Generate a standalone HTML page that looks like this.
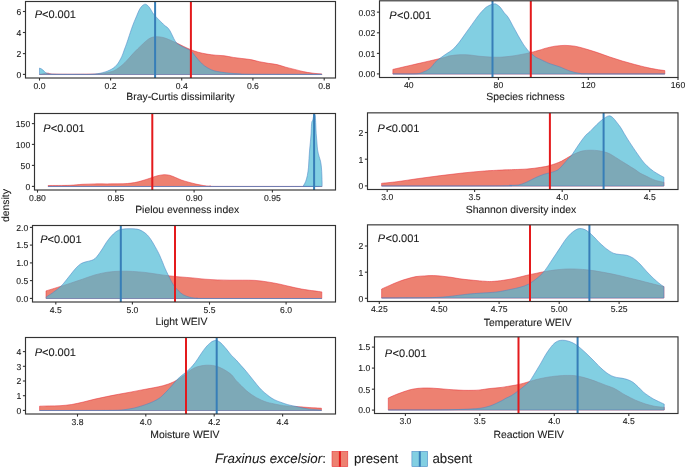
<!DOCTYPE html>
<html><head><meta charset="utf-8"><style>
html,body{margin:0;padding:0;background:#fff;}
body{width:685px;height:468px;overflow:hidden;}
svg{display:block;font-family:"Liberation Sans", sans-serif;will-change:transform;}
text{fill:#1a1a1a;stroke:#1a1a1a;stroke-width:0.1px;text-rendering:geometricPrecision;}
</style></head><body>
<svg width="685" height="468" viewBox="0 0 685 468">
<rect width="685" height="468" fill="#fff"/>
<clipPath id="c0"><rect x="25.50" y="1.50" width="310.00" height="76.50"/></clipPath>
<g clip-path="url(#c0)">
<path d="M39.50,74.52 L39.50,74.40 C40.82,74.20 45.23,73.27 47.40,73.20 C49.57,73.13 48.73,73.83 52.50,74.00 C56.27,74.17 63.75,74.18 70.00,74.20 C76.25,74.22 85.00,74.18 90.00,74.10 C95.00,74.02 96.67,74.05 100.00,73.70 C103.33,73.35 107.22,72.75 110.00,72.00 C112.78,71.25 114.20,70.78 116.70,69.20 C119.20,67.62 122.23,65.15 125.00,62.50 C127.77,59.85 130.52,56.22 133.30,53.30 C136.08,50.38 139.20,47.35 141.70,45.00 C144.20,42.65 146.37,40.53 148.30,39.20 C150.23,37.87 151.77,37.42 153.30,37.00 C154.83,36.58 155.83,36.62 157.50,36.70 C159.17,36.78 161.22,36.95 163.30,37.50 C165.38,38.05 167.77,39.08 170.00,40.00 C172.23,40.92 174.48,41.95 176.70,43.00 C178.92,44.05 180.95,45.18 183.30,46.30 C185.65,47.42 188.33,48.72 190.80,49.70 C193.27,50.68 195.42,51.47 198.10,52.20 C200.78,52.93 203.97,53.60 206.90,54.10 C209.83,54.60 212.78,54.92 215.70,55.20 C218.62,55.48 221.48,55.43 224.40,55.80 C227.32,56.17 230.28,56.95 233.20,57.40 C236.12,57.85 238.98,58.13 241.90,58.50 C244.82,58.87 247.78,59.07 250.70,59.60 C253.62,60.13 256.48,61.08 259.40,61.70 C262.32,62.32 265.27,62.82 268.20,63.30 C271.13,63.78 274.08,63.95 277.00,64.60 C279.92,65.25 282.78,66.40 285.70,67.20 C288.62,68.00 291.58,68.67 294.50,69.40 C297.42,70.13 300.28,70.98 303.20,71.60 C306.12,72.22 308.88,72.70 312.00,73.10 C315.12,73.50 320.25,73.85 321.90,74.00 L321.90,74.52 Z" fill="#E64B35" fill-opacity="0.70" stroke="#E8333A" stroke-width="0.55" stroke-linejoin="round"/>
<path d="M39.50,74.52 L39.50,68.10 C39.78,68.22 40.57,68.43 41.20,68.80 C41.83,69.17 42.62,69.70 43.30,70.30 C43.98,70.90 44.62,71.88 45.30,72.40 C45.98,72.92 46.55,73.13 47.40,73.40 C48.25,73.67 48.30,73.85 50.40,74.00 C52.50,74.15 55.07,74.25 60.00,74.30 C64.93,74.35 75.00,74.30 80.00,74.30 C85.00,74.30 86.67,74.47 90.00,74.30 C93.33,74.13 96.67,74.02 100.00,73.30 C103.33,72.58 107.22,71.38 110.00,70.00 C112.78,68.62 114.75,67.22 116.70,65.00 C118.65,62.78 120.45,59.20 121.70,56.70 C122.95,54.20 123.37,52.23 124.20,50.00 C125.03,47.77 125.87,45.67 126.70,43.30 C127.53,40.93 128.37,38.30 129.20,35.80 C130.03,33.30 130.87,30.65 131.70,28.30 C132.53,25.95 133.37,23.78 134.20,21.70 C135.03,19.62 135.87,17.75 136.70,15.80 C137.53,13.85 138.37,11.58 139.20,10.00 C140.03,8.42 140.95,7.18 141.70,6.30 C142.45,5.42 143.10,5.05 143.70,4.70 C144.30,4.35 144.67,4.10 145.30,4.20 C145.93,4.30 146.72,4.62 147.50,5.30 C148.28,5.98 149.17,7.10 150.00,8.30 C150.83,9.50 151.67,11.25 152.50,12.50 C153.33,13.75 154.03,14.68 155.00,15.80 C155.97,16.92 157.18,18.08 158.30,19.20 C159.42,20.32 160.58,21.40 161.70,22.50 C162.82,23.60 164.03,24.97 165.00,25.80 C165.97,26.63 166.67,26.67 167.50,27.50 C168.33,28.33 169.17,29.42 170.00,30.80 C170.83,32.18 171.67,34.13 172.50,35.80 C173.33,37.47 174.17,39.48 175.00,40.80 C175.83,42.12 176.38,42.78 177.50,43.70 C178.62,44.62 180.17,45.47 181.70,46.30 C183.23,47.13 185.18,47.95 186.70,48.70 C188.22,49.45 189.42,49.62 190.80,50.80 C192.18,51.98 193.47,53.98 195.00,55.80 C196.53,57.62 198.38,60.00 200.00,61.70 C201.62,63.40 202.82,64.65 204.70,66.00 C206.58,67.35 209.12,68.87 211.30,69.80 C213.48,70.73 214.88,71.05 217.80,71.60 C220.72,72.15 225.15,72.73 228.80,73.10 C232.45,73.47 236.05,73.62 239.70,73.80 C243.35,73.98 237.00,74.12 250.70,74.20 C264.40,74.28 310.03,74.28 321.90,74.30 L321.90,74.52 Z" fill="#4DBBD5" fill-opacity="0.70" stroke="#4F86C6" stroke-width="0.55" stroke-linejoin="round"/>
<line x1="190.90" y1="1.50" x2="190.90" y2="78.00" stroke="#E41A1C" stroke-width="2"/>
<line x1="155.10" y1="1.50" x2="155.10" y2="78.00" stroke="#377EB8" stroke-width="2"/>
</g>
<rect x="25.50" y="1.50" width="310.00" height="76.50" fill="none" stroke="#333333" stroke-width="1.15"/>
<line x1="22.90" y1="74.40" x2="25.50" y2="74.40" stroke="#333333" stroke-width="1.1"/>
<text x="21.20" y="77.78" text-anchor="end" font-size="8.65">0</text>
<line x1="22.90" y1="53.60" x2="25.50" y2="53.60" stroke="#333333" stroke-width="1.1"/>
<text x="21.20" y="56.98" text-anchor="end" font-size="8.65">2</text>
<line x1="22.90" y1="32.50" x2="25.50" y2="32.50" stroke="#333333" stroke-width="1.1"/>
<text x="21.20" y="35.88" text-anchor="end" font-size="8.65">4</text>
<line x1="22.90" y1="11.50" x2="25.50" y2="11.50" stroke="#333333" stroke-width="1.1"/>
<text x="21.20" y="14.88" text-anchor="end" font-size="8.65">6</text>
<line x1="39.50" y1="78.00" x2="39.50" y2="80.60" stroke="#333333" stroke-width="1.1"/>
<text x="39.50" y="88.90" text-anchor="middle" font-size="8.65">0.0</text>
<line x1="110.60" y1="78.00" x2="110.60" y2="80.60" stroke="#333333" stroke-width="1.1"/>
<text x="110.60" y="88.90" text-anchor="middle" font-size="8.65">0.2</text>
<line x1="181.70" y1="78.00" x2="181.70" y2="80.60" stroke="#333333" stroke-width="1.1"/>
<text x="181.70" y="88.90" text-anchor="middle" font-size="8.65">0.4</text>
<line x1="252.90" y1="78.00" x2="252.90" y2="80.60" stroke="#333333" stroke-width="1.1"/>
<text x="252.90" y="88.90" text-anchor="middle" font-size="8.65">0.6</text>
<line x1="324.20" y1="78.00" x2="324.20" y2="80.60" stroke="#333333" stroke-width="1.1"/>
<text x="324.20" y="88.90" text-anchor="middle" font-size="8.65">0.8</text>
<text x="126.27" y="99.90" font-size="10.40">Bray-Curtis dissimilarity</text>
<text x="34.67" y="17.70" font-size="11.00"><tspan font-style="italic">P</tspan><tspan dx="0.00">&lt;0.001</tspan></text>
<clipPath id="c1"><rect x="379.50" y="0.80" width="298.50" height="76.70"/></clipPath>
<g clip-path="url(#c1)">
<path d="M392.90,74.02 L392.90,69.40 C400.75,67.58 430.48,60.77 440.00,58.50 C449.52,56.23 446.67,56.43 450.00,55.80 C453.33,55.17 456.67,54.83 460.00,54.70 C463.33,54.57 466.67,54.73 470.00,55.00 C473.33,55.27 476.67,55.97 480.00,56.30 C483.33,56.63 486.67,56.85 490.00,57.00 C493.33,57.15 496.67,57.32 500.00,57.20 C503.33,57.08 506.67,56.72 510.00,56.30 C513.33,55.88 516.53,55.33 520.00,54.70 C523.47,54.07 527.47,53.28 530.80,52.50 C534.13,51.72 537.63,50.68 540.00,50.00 C542.37,49.32 542.52,49.03 545.00,48.40 C547.48,47.77 551.58,46.70 554.90,46.20 C558.22,45.70 561.57,45.40 564.90,45.40 C568.23,45.40 571.57,45.65 574.90,46.20 C578.23,46.75 581.15,47.63 584.90,48.70 C588.65,49.77 593.25,51.22 597.40,52.60 C601.55,53.98 605.65,55.60 609.80,57.00 C613.95,58.40 618.13,59.75 622.30,61.00 C626.47,62.25 630.63,63.40 634.80,64.50 C638.97,65.60 643.77,66.80 647.30,67.60 C650.83,68.40 653.08,68.80 656.00,69.30 C658.92,69.80 663.33,70.38 664.80,70.60 L664.80,74.02 Z" fill="#E64B35" fill-opacity="0.70" stroke="#E8333A" stroke-width="0.55" stroke-linejoin="round"/>
<path d="M392.90,74.02 L392.90,73.90 C396.57,73.90 409.98,74.15 414.90,73.90 C419.82,73.65 419.90,73.28 422.40,72.40 C424.90,71.52 427.80,70.25 429.90,68.60 C432.00,66.95 433.32,64.22 435.00,62.50 C436.68,60.78 438.10,59.75 440.00,58.30 C441.90,56.85 444.27,55.28 446.40,53.80 C448.53,52.32 450.67,51.32 452.80,49.40 C454.93,47.48 457.07,44.98 459.20,42.30 C461.33,39.62 463.47,36.28 465.60,33.30 C467.73,30.32 469.85,27.38 472.00,24.40 C474.15,21.42 476.35,18.08 478.50,15.40 C480.65,12.72 482.98,10.02 484.90,8.30 C486.82,6.58 488.48,5.83 490.00,5.10 C491.52,4.37 492.93,4.03 494.00,3.90 C495.07,3.77 495.35,3.73 496.40,4.30 C497.45,4.87 499.02,5.92 500.30,7.30 C501.58,8.68 502.77,10.90 504.10,12.60 C505.43,14.30 506.77,15.15 508.30,17.50 C509.83,19.85 511.63,23.65 513.30,26.70 C514.97,29.75 516.63,32.88 518.30,35.80 C519.97,38.72 521.63,41.70 523.30,44.20 C524.97,46.70 527.05,49.33 528.30,50.80 C529.55,52.27 529.68,52.02 530.80,53.00 C531.92,53.98 533.47,55.67 535.00,56.70 C536.53,57.73 537.52,58.03 540.00,59.20 C542.48,60.37 546.58,62.42 549.90,63.70 C553.22,64.98 556.57,65.67 559.90,66.90 C563.23,68.13 566.57,70.02 569.90,71.10 C573.23,72.18 576.57,72.93 579.90,73.40 C583.23,73.87 575.75,73.82 589.90,73.90 C604.05,73.98 652.32,73.90 664.80,73.90 L664.80,74.02 Z" fill="#4DBBD5" fill-opacity="0.70" stroke="#4F86C6" stroke-width="0.55" stroke-linejoin="round"/>
<line x1="530.80" y1="0.80" x2="530.80" y2="77.50" stroke="#E41A1C" stroke-width="2"/>
<line x1="492.50" y1="0.80" x2="492.50" y2="77.50" stroke="#377EB8" stroke-width="2"/>
</g>
<rect x="379.50" y="0.80" width="298.50" height="76.70" fill="none" stroke="#333333" stroke-width="1.15"/>
<line x1="376.90" y1="73.90" x2="379.50" y2="73.90" stroke="#333333" stroke-width="1.1"/>
<text x="375.20" y="77.28" text-anchor="end" font-size="8.65">0.00</text>
<line x1="376.90" y1="53.40" x2="379.50" y2="53.40" stroke="#333333" stroke-width="1.1"/>
<text x="375.20" y="56.78" text-anchor="end" font-size="8.65">0.01</text>
<line x1="376.90" y1="32.80" x2="379.50" y2="32.80" stroke="#333333" stroke-width="1.1"/>
<text x="375.20" y="36.18" text-anchor="end" font-size="8.65">0.02</text>
<line x1="376.90" y1="12.15" x2="379.50" y2="12.15" stroke="#333333" stroke-width="1.1"/>
<text x="375.20" y="15.53" text-anchor="end" font-size="8.65">0.03</text>
<line x1="408.80" y1="77.50" x2="408.80" y2="80.10" stroke="#333333" stroke-width="1.1"/>
<text x="408.80" y="88.40" text-anchor="middle" font-size="8.65">40</text>
<line x1="498.40" y1="77.50" x2="498.40" y2="80.10" stroke="#333333" stroke-width="1.1"/>
<text x="498.40" y="88.40" text-anchor="middle" font-size="8.65">80</text>
<line x1="588.30" y1="77.50" x2="588.30" y2="80.10" stroke="#333333" stroke-width="1.1"/>
<text x="588.30" y="88.40" text-anchor="middle" font-size="8.65">120</text>
<line x1="678.00" y1="77.50" x2="678.00" y2="80.10" stroke="#333333" stroke-width="1.1"/>
<text x="678.00" y="88.40" text-anchor="middle" font-size="8.65">160</text>
<text x="486.23" y="100.20" font-size="10.40">Species richness</text>
<text x="389.27" y="18.80" font-size="11.00"><tspan font-style="italic">P</tspan><tspan dx="0.50">&lt;0.001</tspan></text>
<clipPath id="c2"><rect x="34.50" y="113.50" width="301.00" height="76.50"/></clipPath>
<g clip-path="url(#c2)">
<path d="M48.18,186.52 L48.18,185.50 C51.80,185.47 64.20,185.50 69.90,185.30 C75.60,185.10 78.23,184.53 82.40,184.30 C86.57,184.07 90.73,183.97 94.90,183.90 C99.07,183.83 103.22,183.92 107.40,183.90 C111.58,183.88 116.68,183.87 120.00,183.80 C123.32,183.73 124.87,183.70 127.30,183.50 C129.73,183.30 132.17,183.05 134.60,182.60 C137.03,182.15 139.47,181.48 141.90,180.80 C144.33,180.12 146.77,179.30 149.20,178.50 C151.63,177.70 154.07,176.63 156.50,176.00 C158.93,175.37 161.62,174.82 163.80,174.70 C165.98,174.58 167.65,174.83 169.60,175.30 C171.55,175.77 173.55,176.72 175.50,177.50 C177.45,178.28 179.12,179.22 181.30,180.00 C183.48,180.78 186.17,181.52 188.60,182.20 C191.03,182.88 193.47,183.55 195.90,184.10 C198.33,184.65 200.77,185.15 203.20,185.50 C205.63,185.85 207.70,186.05 210.50,186.20 C213.30,186.35 201.45,186.36 220.00,186.40 C238.55,186.44 304.85,186.44 321.82,186.45 L321.82,186.52 Z" fill="#E64B35" fill-opacity="0.70" stroke="#E8333A" stroke-width="0.55" stroke-linejoin="round"/>
<path d="M48.18,186.52 L48.18,186.45 C90.15,186.45 257.53,186.47 300.00,186.45 C342.47,186.42 302.37,186.54 303.00,186.30 C303.63,186.06 303.37,185.78 303.80,185.00 C304.23,184.22 305.02,183.17 305.60,181.60 C306.18,180.03 306.82,178.02 307.30,175.60 C307.78,173.18 308.22,169.95 308.50,167.10 C308.78,164.25 308.82,161.35 309.00,158.50 C309.18,155.65 309.37,152.77 309.60,150.00 C309.83,147.23 310.15,144.67 310.40,141.90 C310.65,139.13 310.92,136.25 311.10,133.40 C311.28,130.55 311.35,126.80 311.50,124.80 C311.65,122.80 311.78,122.18 312.00,121.40 C312.22,120.62 312.55,120.92 312.80,120.10 C313.05,119.28 313.27,117.47 313.50,116.50 C313.73,115.53 313.95,114.65 314.20,114.30 C314.45,113.95 314.80,113.93 315.00,114.40 C315.20,114.87 315.27,115.37 315.40,117.10 C315.53,118.83 315.67,122.08 315.80,124.80 C315.93,127.52 316.02,130.55 316.20,133.40 C316.38,136.25 316.67,139.13 316.90,141.90 C317.13,144.67 317.22,147.52 317.60,150.00 C317.98,152.48 318.72,154.95 319.20,156.80 C319.68,158.65 320.13,159.38 320.50,161.10 C320.87,162.82 321.17,164.68 321.40,167.10 C321.63,169.52 321.78,173.12 321.90,175.60 C322.02,178.08 322.07,180.93 322.10,182.00 L322.10,186.52 Z" fill="#4DBBD5" fill-opacity="0.70" stroke="#4F86C6" stroke-width="0.55" stroke-linejoin="round"/>
<line x1="152.30" y1="113.50" x2="152.30" y2="190.00" stroke="#E41A1C" stroke-width="2"/>
<line x1="314.10" y1="113.50" x2="314.10" y2="190.00" stroke="#377EB8" stroke-width="2"/>
</g>
<rect x="34.50" y="113.50" width="301.00" height="76.50" fill="none" stroke="#333333" stroke-width="1.15"/>
<line x1="31.90" y1="186.40" x2="34.50" y2="186.40" stroke="#333333" stroke-width="1.1"/>
<text x="30.20" y="189.78" text-anchor="end" font-size="8.65">0</text>
<line x1="31.90" y1="165.40" x2="34.50" y2="165.40" stroke="#333333" stroke-width="1.1"/>
<text x="30.20" y="168.78" text-anchor="end" font-size="8.65">50</text>
<line x1="31.90" y1="144.40" x2="34.50" y2="144.40" stroke="#333333" stroke-width="1.1"/>
<text x="30.20" y="147.78" text-anchor="end" font-size="8.65">100</text>
<line x1="31.90" y1="123.60" x2="34.50" y2="123.60" stroke="#333333" stroke-width="1.1"/>
<text x="30.20" y="126.98" text-anchor="end" font-size="8.65">150</text>
<line x1="37.50" y1="190.00" x2="37.50" y2="192.60" stroke="#333333" stroke-width="1.1"/>
<text x="37.50" y="200.90" text-anchor="middle" font-size="8.65">0.80</text>
<line x1="115.80" y1="190.00" x2="115.80" y2="192.60" stroke="#333333" stroke-width="1.1"/>
<text x="115.80" y="200.90" text-anchor="middle" font-size="8.65">0.85</text>
<line x1="194.10" y1="190.00" x2="194.10" y2="192.60" stroke="#333333" stroke-width="1.1"/>
<text x="194.10" y="200.90" text-anchor="middle" font-size="8.65">0.90</text>
<line x1="272.40" y1="190.00" x2="272.40" y2="192.60" stroke="#333333" stroke-width="1.1"/>
<text x="272.40" y="200.90" text-anchor="middle" font-size="8.65">0.95</text>
<text x="135.17" y="213.40" font-size="10.40">Pielou evenness index</text>
<text x="43.37" y="131.60" font-size="11.00"><tspan font-style="italic">P</tspan><tspan dx="0.00">&lt;0.001</tspan></text>
<clipPath id="c3"><rect x="367.50" y="112.85" width="310.50" height="76.65"/></clipPath>
<g clip-path="url(#c3)">
<path d="M381.61,186.02 L381.61,183.30 C384.16,183.03 390.70,182.50 396.90,181.70 C403.10,180.90 411.50,179.52 418.80,178.50 C426.10,177.48 433.40,176.52 440.70,175.60 C448.00,174.68 455.30,173.77 462.60,173.00 C469.90,172.23 477.20,171.53 484.50,171.00 C491.80,170.47 502.15,170.02 506.40,169.80 C510.65,169.58 506.55,169.83 510.00,169.70 C513.45,169.57 521.97,169.40 527.10,169.00 C532.23,168.60 537.08,167.87 540.80,167.30 C544.52,166.73 545.98,166.60 549.40,165.60 C552.82,164.60 557.60,163.02 561.30,161.30 C565.00,159.58 568.17,157.00 571.60,155.30 C575.03,153.60 578.77,151.95 581.90,151.10 C585.03,150.25 587.62,150.27 590.40,150.20 C593.18,150.13 596.17,150.38 598.60,150.70 C601.03,151.02 603.08,151.55 605.00,152.10 C606.92,152.65 608.38,153.15 610.10,154.00 C611.82,154.85 613.58,156.13 615.30,157.20 C617.02,158.27 618.70,159.33 620.40,160.40 C622.10,161.47 623.80,162.53 625.50,163.60 C627.20,164.67 628.88,165.73 630.60,166.80 C632.32,167.87 634.23,168.95 635.80,170.00 C637.37,171.05 638.45,172.17 640.00,173.10 C641.55,174.03 643.38,174.75 645.10,175.60 C646.82,176.45 648.58,177.42 650.30,178.20 C652.02,178.98 653.70,179.73 655.40,180.30 C657.10,180.87 659.09,181.27 660.50,181.60 C661.91,181.93 663.33,182.18 663.89,182.30 L663.89,186.02 Z" fill="#E64B35" fill-opacity="0.70" stroke="#E8333A" stroke-width="0.55" stroke-linejoin="round"/>
<path d="M381.61,186.02 L381.61,186.00 C401.34,185.98 478.60,186.02 500.00,185.90 C521.40,185.78 506.90,185.45 510.00,185.30 C513.10,185.15 515.75,185.57 518.60,185.00 C521.45,184.43 524.25,183.13 527.10,181.90 C529.95,180.67 532.85,178.88 535.70,177.60 C538.55,176.32 541.63,175.05 544.20,174.20 C546.77,173.35 548.82,173.22 551.10,172.50 C553.38,171.78 555.92,171.18 557.90,169.90 C559.88,168.62 561.28,166.65 563.00,164.80 C564.72,162.95 566.77,160.38 568.20,158.80 C569.63,157.22 569.90,157.58 571.60,155.30 C573.30,153.02 576.12,148.37 578.40,145.10 C580.68,141.83 583.37,137.97 585.30,135.70 C587.23,133.43 588.08,133.37 590.00,131.50 C591.92,129.63 594.52,126.65 596.80,124.50 C599.08,122.35 601.70,120.03 603.70,118.60 C605.70,117.17 607.30,116.08 608.80,115.90 C610.30,115.72 611.42,116.48 612.70,117.50 C613.98,118.52 615.22,120.40 616.50,122.00 C617.78,123.60 619.12,125.18 620.40,127.10 C621.68,129.02 622.92,131.37 624.20,133.50 C625.48,135.63 626.82,137.87 628.10,139.90 C629.38,141.93 630.62,143.77 631.90,145.70 C633.18,147.63 634.52,149.63 635.80,151.50 C637.08,153.37 638.33,155.15 639.60,156.90 C640.87,158.65 642.20,160.55 643.40,162.00 C644.60,163.45 645.65,164.47 646.80,165.60 C647.95,166.73 649.15,167.83 650.30,168.80 C651.45,169.77 652.57,170.62 653.70,171.40 C654.83,172.18 655.97,172.82 657.10,173.50 C658.23,174.18 659.37,174.88 660.50,175.50 C661.63,176.12 663.33,176.92 663.89,177.20 L663.89,186.02 Z" fill="#4DBBD5" fill-opacity="0.70" stroke="#4F86C6" stroke-width="0.55" stroke-linejoin="round"/>
<line x1="549.90" y1="112.85" x2="549.90" y2="189.50" stroke="#E41A1C" stroke-width="2"/>
<line x1="603.60" y1="112.85" x2="603.60" y2="189.50" stroke="#377EB8" stroke-width="2"/>
</g>
<rect x="367.50" y="112.85" width="310.50" height="76.65" fill="none" stroke="#333333" stroke-width="1.15"/>
<line x1="364.90" y1="185.90" x2="367.50" y2="185.90" stroke="#333333" stroke-width="1.1"/>
<text x="363.20" y="189.28" text-anchor="end" font-size="8.65">0</text>
<line x1="364.90" y1="159.20" x2="367.50" y2="159.20" stroke="#333333" stroke-width="1.1"/>
<text x="363.20" y="162.58" text-anchor="end" font-size="8.65">1</text>
<line x1="364.90" y1="132.50" x2="367.50" y2="132.50" stroke="#333333" stroke-width="1.1"/>
<text x="363.20" y="135.88" text-anchor="end" font-size="8.65">2</text>
<line x1="387.20" y1="189.50" x2="387.20" y2="192.10" stroke="#333333" stroke-width="1.1"/>
<text x="387.20" y="200.40" text-anchor="middle" font-size="8.65">3.0</text>
<line x1="474.60" y1="189.50" x2="474.60" y2="192.10" stroke="#333333" stroke-width="1.1"/>
<text x="474.60" y="200.40" text-anchor="middle" font-size="8.65">3.5</text>
<line x1="562.20" y1="189.50" x2="562.20" y2="192.10" stroke="#333333" stroke-width="1.1"/>
<text x="562.20" y="200.40" text-anchor="middle" font-size="8.65">4.0</text>
<line x1="649.70" y1="189.50" x2="649.70" y2="192.10" stroke="#333333" stroke-width="1.1"/>
<text x="649.70" y="200.40" text-anchor="middle" font-size="8.65">4.5</text>
<text x="465.83" y="213.10" font-size="10.40">Shannon diversity index</text>
<text x="377.57" y="132.00" font-size="11.00"><tspan font-style="italic">P</tspan><tspan dx="0.50">&lt;0.001</tspan></text>
<clipPath id="c4"><rect x="32.50" y="225.50" width="303.00" height="76.50"/></clipPath>
<g clip-path="url(#c4)">
<path d="M46.00,298.52 L46.00,290.90 C47.90,290.32 53.42,288.65 57.40,287.40 C61.38,286.15 65.73,284.77 69.90,283.40 C74.07,282.03 78.23,280.62 82.40,279.20 C86.57,277.78 90.73,276.07 94.90,274.90 C99.07,273.73 103.23,272.82 107.40,272.20 C111.57,271.58 115.75,271.33 119.90,271.20 C124.05,271.07 128.15,271.20 132.30,271.40 C136.45,271.60 140.63,271.93 144.80,272.40 C148.97,272.87 153.13,273.62 157.30,274.20 C161.47,274.78 166.02,275.45 169.80,275.90 C173.58,276.35 176.22,276.57 180.00,276.90 C183.78,277.23 188.33,277.52 192.50,277.90 C196.67,278.28 200.85,278.87 205.00,279.20 C209.15,279.53 213.25,279.73 217.40,279.90 C221.55,280.07 225.73,280.15 229.90,280.20 C234.07,280.25 238.23,280.17 242.40,280.20 C246.57,280.23 250.73,280.12 254.90,280.40 C259.07,280.68 263.23,281.27 267.40,281.90 C271.57,282.53 275.75,283.33 279.90,284.20 C284.05,285.07 288.15,286.20 292.30,287.10 C296.45,288.00 299.88,288.80 304.80,289.60 C309.72,290.40 318.97,291.52 321.80,291.90 L321.80,298.52 Z" fill="#E64B35" fill-opacity="0.70" stroke="#E8333A" stroke-width="0.55" stroke-linejoin="round"/>
<path d="M46.27,298.52 L46.27,296.90 C47.31,296.23 50.15,294.58 52.50,292.90 C54.85,291.22 58.23,288.78 60.40,286.80 C62.57,284.82 63.80,283.03 65.50,281.00 C67.20,278.97 68.88,276.73 70.60,274.60 C72.32,272.47 74.08,270.02 75.80,268.20 C77.52,266.38 79.20,264.77 80.90,263.70 C82.60,262.63 84.28,262.33 86.00,261.80 C87.72,261.27 89.70,261.03 91.20,260.50 C92.70,259.97 93.73,259.67 95.00,258.60 C96.27,257.53 97.52,255.82 98.80,254.10 C100.08,252.38 101.67,249.90 102.70,248.30 C103.73,246.70 104.07,245.93 105.00,244.50 C105.93,243.07 106.92,241.45 108.30,239.70 C109.68,237.95 111.63,235.57 113.30,234.00 C114.97,232.43 116.63,231.13 118.30,230.30 C119.97,229.47 121.35,229.27 123.30,229.00 C125.25,228.73 127.72,228.68 130.00,228.70 C132.28,228.72 134.97,228.70 137.00,229.10 C139.03,229.50 140.48,230.13 142.20,231.10 C143.92,232.07 145.80,233.42 147.30,234.90 C148.80,236.38 149.92,238.08 151.20,240.00 C152.48,241.92 153.73,244.15 155.00,246.40 C156.27,248.65 157.52,250.82 158.80,253.50 C160.08,256.18 161.67,260.05 162.70,262.50 C163.73,264.95 164.07,266.08 165.00,268.20 C165.93,270.32 166.92,272.43 168.30,275.20 C169.68,277.97 171.63,282.22 173.30,284.80 C174.97,287.38 176.63,289.03 178.30,290.70 C179.97,292.37 181.35,293.70 183.30,294.80 C185.25,295.90 187.77,296.73 190.00,297.30 C192.23,297.87 193.37,298.01 196.70,298.20 C200.03,298.39 189.16,298.40 210.00,298.45 C230.84,298.50 303.11,298.49 321.73,298.50 L321.73,298.52 Z" fill="#4DBBD5" fill-opacity="0.70" stroke="#4F86C6" stroke-width="0.55" stroke-linejoin="round"/>
<line x1="175.00" y1="225.50" x2="175.00" y2="302.00" stroke="#E41A1C" stroke-width="2"/>
<line x1="120.80" y1="225.50" x2="120.80" y2="302.00" stroke="#377EB8" stroke-width="2"/>
</g>
<rect x="32.50" y="225.50" width="303.00" height="76.50" fill="none" stroke="#333333" stroke-width="1.15"/>
<line x1="29.90" y1="298.40" x2="32.50" y2="298.40" stroke="#333333" stroke-width="1.1"/>
<text x="28.20" y="301.78" text-anchor="end" font-size="8.65">0.0</text>
<line x1="29.90" y1="280.60" x2="32.50" y2="280.60" stroke="#333333" stroke-width="1.1"/>
<text x="28.20" y="283.98" text-anchor="end" font-size="8.65">0.5</text>
<line x1="29.90" y1="262.90" x2="32.50" y2="262.90" stroke="#333333" stroke-width="1.1"/>
<text x="28.20" y="266.28" text-anchor="end" font-size="8.65">1.0</text>
<line x1="29.90" y1="245.10" x2="32.50" y2="245.10" stroke="#333333" stroke-width="1.1"/>
<text x="28.20" y="248.48" text-anchor="end" font-size="8.65">1.5</text>
<line x1="29.90" y1="227.40" x2="32.50" y2="227.40" stroke="#333333" stroke-width="1.1"/>
<text x="28.20" y="230.78" text-anchor="end" font-size="8.65">2.0</text>
<line x1="55.80" y1="302.00" x2="55.80" y2="304.60" stroke="#333333" stroke-width="1.1"/>
<text x="55.80" y="312.90" text-anchor="middle" font-size="8.65">4.5</text>
<line x1="132.40" y1="302.00" x2="132.40" y2="304.60" stroke="#333333" stroke-width="1.1"/>
<text x="132.40" y="312.90" text-anchor="middle" font-size="8.65">5.0</text>
<line x1="209.50" y1="302.00" x2="209.50" y2="304.60" stroke="#333333" stroke-width="1.1"/>
<text x="209.50" y="312.90" text-anchor="middle" font-size="8.65">5.5</text>
<line x1="286.10" y1="302.00" x2="286.10" y2="304.60" stroke="#333333" stroke-width="1.1"/>
<text x="286.10" y="312.90" text-anchor="middle" font-size="8.65">6.0</text>
<text x="155.47" y="325.00" font-size="10.40">Light WEIV</text>
<text x="40.27" y="243.10" font-size="11.00"><tspan font-style="italic">P</tspan><tspan dx="0.00">&lt;0.001</tspan></text>
<clipPath id="c5"><rect x="367.50" y="224.85" width="310.50" height="76.65"/></clipPath>
<g clip-path="url(#c5)">
<path d="M381.61,298.02 L381.61,289.00 C382.96,288.40 386.90,286.62 389.70,285.40 C392.50,284.18 395.48,282.80 398.40,281.70 C401.32,280.60 404.27,279.65 407.20,278.80 C410.13,277.95 413.08,277.08 416.00,276.60 C418.92,276.12 421.78,276.07 424.70,275.90 C427.62,275.73 430.58,275.55 433.50,275.60 C436.42,275.65 439.28,275.92 442.20,276.20 C445.12,276.48 448.07,276.87 451.00,277.30 C453.93,277.73 456.88,278.38 459.80,278.80 C462.72,279.22 465.47,279.48 468.50,279.80 C471.53,280.12 475.42,280.47 478.00,280.70 C480.58,280.93 481.72,281.07 484.00,281.20 C486.28,281.33 488.48,281.65 491.70,281.50 C494.92,281.35 499.42,280.85 503.30,280.30 C507.18,279.75 511.10,279.03 515.00,278.20 C518.90,277.37 523.08,276.13 526.70,275.30 C530.32,274.47 533.65,273.83 536.70,273.20 C539.75,272.57 541.67,272.07 545.00,271.50 C548.33,270.93 552.53,270.23 556.70,269.80 C560.87,269.37 565.00,268.90 570.00,268.90 C575.00,268.90 581.15,269.23 586.70,269.80 C592.25,270.37 597.75,271.32 603.30,272.30 C608.85,273.28 614.43,274.45 620.00,275.70 C625.57,276.95 631.15,278.42 636.70,279.80 C642.25,281.18 648.77,282.87 653.30,284.00 C657.83,285.13 662.12,286.17 663.89,286.60 L663.89,298.02 Z" fill="#E64B35" fill-opacity="0.70" stroke="#E8333A" stroke-width="0.55" stroke-linejoin="round"/>
<path d="M381.61,298.02 L381.61,298.00 C388.31,297.97 412.90,297.88 421.80,297.80 C430.70,297.72 431.35,297.63 435.00,297.50 C438.65,297.37 440.55,297.27 443.70,297.00 C446.85,296.73 450.25,296.33 453.90,295.90 C457.55,295.47 461.58,294.83 465.60,294.40 C469.62,293.97 472.82,293.70 478.00,293.30 C483.18,292.90 491.37,292.63 496.70,292.00 C502.03,291.37 506.12,290.28 510.00,289.50 C513.88,288.72 516.95,288.17 520.00,287.30 C523.05,286.43 525.80,285.55 528.30,284.30 C530.80,283.05 533.05,281.23 535.00,279.80 C536.95,278.37 538.32,277.30 540.00,275.70 C541.68,274.10 543.38,272.40 545.10,270.20 C546.82,268.00 548.58,265.07 550.30,262.50 C552.02,259.93 553.70,257.37 555.40,254.80 C557.10,252.23 558.80,249.67 560.50,247.10 C562.20,244.53 563.88,241.65 565.60,239.40 C567.32,237.15 569.08,235.20 570.80,233.60 C572.52,232.00 574.42,230.65 575.90,229.80 C577.38,228.95 578.42,228.62 579.70,228.50 C580.98,228.38 582.32,228.67 583.60,229.10 C584.88,229.53 586.12,230.23 587.40,231.10 C588.68,231.97 589.80,232.92 591.30,234.30 C592.80,235.68 594.95,237.92 596.40,239.40 C597.85,240.88 598.28,241.60 600.00,243.20 C601.72,244.80 604.48,247.33 606.70,249.00 C608.92,250.67 611.08,252.28 613.30,253.20 C615.52,254.12 617.77,254.15 620.00,254.50 C622.23,254.85 624.48,254.68 626.70,255.30 C628.92,255.92 631.08,256.75 633.30,258.20 C635.52,259.65 637.77,261.78 640.00,264.00 C642.23,266.22 644.48,269.13 646.70,271.50 C648.92,273.87 651.08,276.12 653.30,278.20 C655.52,280.28 658.24,282.60 660.00,284.00 C661.76,285.40 663.24,286.17 663.89,286.60 L663.89,298.02 Z" fill="#4DBBD5" fill-opacity="0.70" stroke="#4F86C6" stroke-width="0.55" stroke-linejoin="round"/>
<line x1="530.00" y1="224.85" x2="530.00" y2="301.50" stroke="#E41A1C" stroke-width="2"/>
<line x1="589.40" y1="224.85" x2="589.40" y2="301.50" stroke="#377EB8" stroke-width="2"/>
</g>
<rect x="367.50" y="224.85" width="310.50" height="76.65" fill="none" stroke="#333333" stroke-width="1.15"/>
<line x1="364.90" y1="298.30" x2="367.50" y2="298.30" stroke="#333333" stroke-width="1.1"/>
<text x="363.20" y="301.68" text-anchor="end" font-size="8.65">0</text>
<line x1="364.90" y1="272.20" x2="367.50" y2="272.20" stroke="#333333" stroke-width="1.1"/>
<text x="363.20" y="275.58" text-anchor="end" font-size="8.65">1</text>
<line x1="364.90" y1="246.00" x2="367.50" y2="246.00" stroke="#333333" stroke-width="1.1"/>
<text x="363.20" y="249.38" text-anchor="end" font-size="8.65">2</text>
<line x1="379.30" y1="301.50" x2="379.30" y2="304.10" stroke="#333333" stroke-width="1.1"/>
<text x="379.30" y="312.40" text-anchor="middle" font-size="8.65">4.25</text>
<line x1="439.20" y1="301.50" x2="439.20" y2="304.10" stroke="#333333" stroke-width="1.1"/>
<text x="439.20" y="312.40" text-anchor="middle" font-size="8.65">4.50</text>
<line x1="499.10" y1="301.50" x2="499.10" y2="304.10" stroke="#333333" stroke-width="1.1"/>
<text x="499.10" y="312.40" text-anchor="middle" font-size="8.65">4.75</text>
<line x1="559.20" y1="301.50" x2="559.20" y2="304.10" stroke="#333333" stroke-width="1.1"/>
<text x="559.20" y="312.40" text-anchor="middle" font-size="8.65">5.00</text>
<line x1="619.10" y1="301.50" x2="619.10" y2="304.10" stroke="#333333" stroke-width="1.1"/>
<text x="619.10" y="312.40" text-anchor="middle" font-size="8.65">5.25</text>
<text x="483.84" y="325.60" font-size="10.40">Temperature WEIV</text>
<text x="377.67" y="242.30" font-size="11.00"><tspan font-style="italic">P</tspan><tspan dx="0.50">&lt;0.001</tspan></text>
<clipPath id="c6"><rect x="25.50" y="337.50" width="310.00" height="76.50"/></clipPath>
<g clip-path="url(#c6)">
<path d="M39.59,410.52 L39.59,406.20 C41.26,406.15 46.20,405.98 49.60,405.90 C53.00,405.82 56.32,405.93 60.00,405.70 C63.68,405.47 67.80,405.12 71.70,404.50 C75.60,403.88 79.52,402.90 83.40,402.00 C87.28,401.10 91.12,400.00 95.00,399.10 C98.88,398.20 102.80,397.40 106.70,396.60 C110.60,395.80 114.50,395.03 118.40,394.30 C122.30,393.57 126.20,392.93 130.10,392.20 C134.00,391.47 137.92,390.63 141.80,389.90 C145.68,389.17 149.85,388.50 153.40,387.80 C156.95,387.10 160.28,386.45 163.10,385.70 C165.92,384.95 168.12,384.17 170.30,383.30 C172.48,382.43 174.42,381.47 176.20,380.50 C177.98,379.53 179.50,378.50 181.00,377.50 C182.50,376.50 183.70,375.67 185.20,374.50 C186.70,373.33 188.30,371.68 190.00,370.50 C191.70,369.32 193.22,368.23 195.40,367.40 C197.58,366.57 200.75,365.87 203.10,365.50 C205.45,365.13 207.37,365.10 209.50,365.20 C211.63,365.30 213.55,365.42 215.90,366.10 C218.25,366.78 221.03,367.90 223.60,369.30 C226.17,370.70 229.23,372.65 231.30,374.50 C233.37,376.35 234.37,378.57 236.00,380.40 C237.63,382.23 239.38,383.80 241.10,385.50 C242.82,387.20 244.58,389.10 246.30,390.60 C248.02,392.10 249.70,393.32 251.40,394.50 C253.10,395.68 254.80,396.75 256.50,397.70 C258.20,398.65 259.88,399.45 261.60,400.20 C263.32,400.95 265.08,401.67 266.80,402.20 C268.52,402.73 270.20,403.02 271.90,403.40 C273.60,403.78 275.28,404.17 277.00,404.50 C278.72,404.83 280.48,405.15 282.20,405.40 C283.92,405.65 285.00,405.80 287.30,406.00 C289.60,406.20 292.88,406.38 296.00,406.60 C299.12,406.82 303.15,407.10 306.00,407.30 C308.85,407.50 310.53,407.65 313.10,407.80 C315.67,407.95 320.03,408.13 321.41,408.20 L321.41,410.52 Z" fill="#E64B35" fill-opacity="0.70" stroke="#E8333A" stroke-width="0.55" stroke-linejoin="round"/>
<path d="M39.59,410.52 L39.59,410.50 C49.66,410.48 87.93,410.43 100.00,410.40 C112.07,410.37 108.45,410.37 112.00,410.30 C115.55,410.23 117.80,410.33 121.30,410.00 C124.80,409.67 129.10,409.15 133.00,408.30 C136.90,407.45 141.30,406.03 144.70,404.90 C148.10,403.77 150.93,402.63 153.40,401.50 C155.87,400.37 157.88,399.20 159.50,398.10 C161.12,397.00 161.70,396.23 163.10,394.90 C164.50,393.57 166.30,391.80 167.90,390.10 C169.50,388.40 171.12,386.50 172.70,384.70 C174.28,382.90 175.82,380.90 177.40,379.30 C178.98,377.70 180.90,376.18 182.20,375.10 C183.50,374.02 183.90,373.88 185.20,372.80 C186.50,371.72 188.30,370.35 190.00,368.60 C191.70,366.85 193.65,364.63 195.40,362.30 C197.15,359.97 198.80,357.07 200.50,354.60 C202.20,352.13 203.88,349.53 205.60,347.50 C207.32,345.47 209.30,343.55 210.80,342.40 C212.30,341.25 213.53,340.90 214.60,340.60 C215.67,340.30 216.13,340.18 217.20,340.60 C218.27,341.02 219.50,341.73 221.00,343.10 C222.50,344.47 224.48,346.78 226.20,348.80 C227.92,350.82 229.67,353.37 231.30,355.20 C232.93,357.03 234.37,358.07 236.00,359.80 C237.63,361.53 239.38,363.67 241.10,365.60 C242.82,367.53 244.58,369.37 246.30,371.40 C248.02,373.43 249.70,375.67 251.40,377.80 C253.10,379.93 254.80,382.17 256.50,384.20 C258.20,386.23 259.88,388.28 261.60,390.00 C263.32,391.72 265.08,393.12 266.80,394.50 C268.52,395.88 270.20,397.23 271.90,398.30 C273.60,399.37 275.28,400.15 277.00,400.90 C278.72,401.65 280.48,402.20 282.20,402.80 C283.92,403.40 285.60,404.02 287.30,404.50 C289.00,404.98 290.95,405.38 292.40,405.70 C293.85,406.02 294.58,406.08 296.00,406.40 C297.42,406.72 299.23,407.23 300.90,407.60 C302.57,407.97 304.30,408.32 306.00,408.60 C307.70,408.88 309.23,409.10 311.10,409.30 C312.97,409.50 315.48,409.67 317.20,409.80 C318.92,409.93 320.71,410.05 321.41,410.10 L321.41,410.52 Z" fill="#4DBBD5" fill-opacity="0.70" stroke="#4F86C6" stroke-width="0.55" stroke-linejoin="round"/>
<line x1="186.00" y1="337.50" x2="186.00" y2="414.00" stroke="#E41A1C" stroke-width="2"/>
<line x1="216.70" y1="337.50" x2="216.70" y2="414.00" stroke="#377EB8" stroke-width="2"/>
</g>
<rect x="25.50" y="337.50" width="310.00" height="76.50" fill="none" stroke="#333333" stroke-width="1.15"/>
<line x1="22.90" y1="410.40" x2="25.50" y2="410.40" stroke="#333333" stroke-width="1.1"/>
<text x="21.20" y="413.78" text-anchor="end" font-size="8.65">0</text>
<line x1="22.90" y1="395.70" x2="25.50" y2="395.70" stroke="#333333" stroke-width="1.1"/>
<text x="21.20" y="399.08" text-anchor="end" font-size="8.65">1</text>
<line x1="22.90" y1="381.00" x2="25.50" y2="381.00" stroke="#333333" stroke-width="1.1"/>
<text x="21.20" y="384.38" text-anchor="end" font-size="8.65">2</text>
<line x1="22.90" y1="366.30" x2="25.50" y2="366.30" stroke="#333333" stroke-width="1.1"/>
<text x="21.20" y="369.68" text-anchor="end" font-size="8.65">3</text>
<line x1="22.90" y1="351.60" x2="25.50" y2="351.60" stroke="#333333" stroke-width="1.1"/>
<text x="21.20" y="354.98" text-anchor="end" font-size="8.65">4</text>
<line x1="77.50" y1="414.00" x2="77.50" y2="416.60" stroke="#333333" stroke-width="1.1"/>
<text x="77.50" y="424.90" text-anchor="middle" font-size="8.65">3.8</text>
<line x1="145.80" y1="414.00" x2="145.80" y2="416.60" stroke="#333333" stroke-width="1.1"/>
<text x="145.80" y="424.90" text-anchor="middle" font-size="8.65">4.0</text>
<line x1="214.20" y1="414.00" x2="214.20" y2="416.60" stroke="#333333" stroke-width="1.1"/>
<text x="214.20" y="424.90" text-anchor="middle" font-size="8.65">4.2</text>
<line x1="282.60" y1="414.00" x2="282.60" y2="416.60" stroke="#333333" stroke-width="1.1"/>
<text x="282.60" y="424.90" text-anchor="middle" font-size="8.65">4.4</text>
<text x="150.27" y="437.50" font-size="10.40">Moisture WEIV</text>
<text x="34.67" y="356.20" font-size="11.00"><tspan font-style="italic">P</tspan><tspan dx="0.00">&lt;0.001</tspan></text>
<clipPath id="c7"><rect x="374.50" y="336.85" width="303.50" height="76.65"/></clipPath>
<g clip-path="url(#c7)">
<path d="M388.30,410.02 L388.30,398.00 C389.70,397.38 393.92,395.42 396.70,394.30 C399.48,393.18 402.23,392.18 405.00,391.30 C407.77,390.42 410.25,389.55 413.30,389.00 C416.35,388.45 419.97,388.13 423.30,388.00 C426.63,387.87 429.97,388.03 433.30,388.20 C436.63,388.37 439.97,388.73 443.30,389.00 C446.63,389.27 449.97,389.58 453.30,389.80 C456.63,390.02 459.97,390.22 463.30,390.30 C466.63,390.38 470.52,390.37 473.30,390.30 C476.08,390.23 477.22,390.20 480.00,389.90 C482.78,389.60 486.67,388.88 490.00,388.50 C493.33,388.12 497.05,387.95 500.00,387.60 C502.95,387.25 505.13,386.82 507.70,386.40 C510.27,385.98 512.83,385.60 515.40,385.10 C517.97,384.60 520.75,384.00 523.10,383.40 C525.45,382.80 526.93,382.23 529.50,381.50 C532.07,380.77 535.30,379.75 538.50,379.00 C541.70,378.25 545.12,377.55 548.70,377.00 C552.28,376.45 556.83,375.97 560.00,375.70 C563.17,375.43 565.13,375.40 567.70,375.40 C570.27,375.40 572.83,375.38 575.40,375.70 C577.97,376.02 580.53,376.65 583.10,377.30 C585.67,377.95 588.23,378.75 590.80,379.60 C593.37,380.45 595.93,381.43 598.50,382.40 C601.07,383.37 603.65,384.43 606.20,385.40 C608.75,386.37 611.48,387.12 613.80,388.20 C616.12,389.28 618.18,390.75 620.10,391.90 C622.02,393.05 623.58,394.13 625.30,395.10 C627.02,396.07 628.70,396.85 630.40,397.70 C632.10,398.55 633.80,399.45 635.50,400.20 C637.20,400.95 638.88,401.55 640.60,402.20 C642.32,402.85 644.08,403.57 645.80,404.10 C647.52,404.63 649.20,405.00 650.90,405.40 C652.60,405.80 653.78,406.18 656.00,406.50 C658.22,406.82 662.83,407.17 664.20,407.30 L664.20,410.02 Z" fill="#E64B35" fill-opacity="0.70" stroke="#E8333A" stroke-width="0.55" stroke-linejoin="round"/>
<path d="M388.30,410.02 L388.30,410.00 C396.92,409.98 428.88,409.97 440.00,409.90 C451.12,409.83 450.83,409.70 455.00,409.60 C459.17,409.50 462.17,409.42 465.00,409.30 C467.83,409.18 469.50,409.07 472.00,408.90 C474.50,408.73 477.00,408.78 480.00,408.30 C483.00,407.82 486.67,407.12 490.00,406.00 C493.33,404.88 497.33,402.90 500.00,401.60 C502.67,400.30 504.08,399.20 506.00,398.20 C507.92,397.20 509.52,396.78 511.50,395.60 C513.48,394.42 515.75,392.70 517.90,391.10 C520.05,389.50 522.47,387.60 524.40,386.00 C526.33,384.40 528.02,383.22 529.50,381.50 C530.98,379.78 532.02,377.73 533.30,375.70 C534.58,373.67 535.92,371.43 537.20,369.30 C538.48,367.17 539.72,365.13 541.00,362.90 C542.28,360.67 543.62,358.03 544.90,355.90 C546.18,353.77 547.42,351.92 548.70,350.10 C549.98,348.28 551.32,346.38 552.60,345.00 C553.88,343.62 555.17,342.57 556.40,341.80 C557.63,341.03 558.55,340.63 560.00,340.40 C561.45,340.17 563.38,340.17 565.10,340.40 C566.82,340.63 568.58,341.15 570.30,341.80 C572.02,342.45 573.70,343.23 575.40,344.30 C577.10,345.37 578.80,346.80 580.50,348.20 C582.20,349.60 583.88,351.10 585.60,352.70 C587.32,354.30 589.08,356.10 590.80,357.80 C592.52,359.50 594.20,361.18 595.90,362.90 C597.60,364.62 599.28,366.50 601.00,368.10 C602.72,369.70 604.48,371.23 606.20,372.50 C607.92,373.77 609.60,374.88 611.30,375.70 C613.00,376.52 614.72,377.00 616.40,377.40 C618.08,377.80 619.50,377.72 621.40,378.10 C623.30,378.48 625.87,379.00 627.80,379.70 C629.73,380.40 631.28,381.12 633.00,382.30 C634.72,383.48 636.40,385.20 638.10,386.80 C639.80,388.40 641.50,390.42 643.20,391.90 C644.90,393.38 646.58,394.52 648.30,395.70 C650.02,396.88 651.78,398.03 653.50,399.00 C655.22,399.97 656.82,400.65 658.60,401.50 C660.38,402.35 663.27,403.67 664.20,404.10 L664.20,410.02 Z" fill="#4DBBD5" fill-opacity="0.70" stroke="#4F86C6" stroke-width="0.55" stroke-linejoin="round"/>
<line x1="518.50" y1="336.85" x2="518.50" y2="413.50" stroke="#E41A1C" stroke-width="2"/>
<line x1="577.60" y1="336.85" x2="577.60" y2="413.50" stroke="#377EB8" stroke-width="2"/>
</g>
<rect x="374.50" y="336.85" width="303.50" height="76.65" fill="none" stroke="#333333" stroke-width="1.15"/>
<line x1="371.90" y1="410.10" x2="374.50" y2="410.10" stroke="#333333" stroke-width="1.1"/>
<text x="370.20" y="413.48" text-anchor="end" font-size="8.65">0.0</text>
<line x1="371.90" y1="389.20" x2="374.50" y2="389.20" stroke="#333333" stroke-width="1.1"/>
<text x="370.20" y="392.58" text-anchor="end" font-size="8.65">0.5</text>
<line x1="371.90" y1="368.10" x2="374.50" y2="368.10" stroke="#333333" stroke-width="1.1"/>
<text x="370.20" y="371.48" text-anchor="end" font-size="8.65">1.0</text>
<line x1="371.90" y1="347.10" x2="374.50" y2="347.10" stroke="#333333" stroke-width="1.1"/>
<text x="370.20" y="350.48" text-anchor="end" font-size="8.65">1.5</text>
<line x1="405.40" y1="413.50" x2="405.40" y2="416.10" stroke="#333333" stroke-width="1.1"/>
<text x="405.40" y="424.40" text-anchor="middle" font-size="8.65">3.0</text>
<line x1="479.80" y1="413.50" x2="479.80" y2="416.10" stroke="#333333" stroke-width="1.1"/>
<text x="479.80" y="424.40" text-anchor="middle" font-size="8.65">3.5</text>
<line x1="554.30" y1="413.50" x2="554.30" y2="416.10" stroke="#333333" stroke-width="1.1"/>
<text x="554.30" y="424.40" text-anchor="middle" font-size="8.65">4.0</text>
<line x1="628.80" y1="413.50" x2="628.80" y2="416.10" stroke="#333333" stroke-width="1.1"/>
<text x="628.80" y="424.40" text-anchor="middle" font-size="8.65">4.5</text>
<text x="493.57" y="437.50" font-size="10.40">Reaction WEIV</text>
<text x="384.77" y="356.50" font-size="11.00"><tspan font-style="italic">P</tspan><tspan dx="0.50">&lt;0.001</tspan></text>
<text x="8.5" y="205.5" transform="rotate(-90 8.5 205.5)" text-anchor="middle" font-size="10.40">density</text>
<text x="215.0" y="463.0" font-size="13.30" style="stroke-width:0.08px"><tspan font-style="italic">Fraxinus excelsior</tspan>:</text>
<rect x="332.00" y="451.3" width="15.8" height="15.4" fill="#E64B35" fill-opacity="0.70" stroke="#E8333A" stroke-width="0.55"/>
<line x1="339.90" y1="451.3" x2="339.90" y2="466.7" stroke="#E41A1C" stroke-width="2"/>
<text x="353.90" y="463.0" font-size="13.30" style="stroke-width:0.08px">present</text>
<rect x="411.90" y="451.3" width="15.8" height="15.4" fill="#4DBBD5" fill-opacity="0.70" stroke="#4F86C6" stroke-width="0.55"/>
<line x1="419.80" y1="451.3" x2="419.80" y2="466.7" stroke="#377EB8" stroke-width="2"/>
<text x="432.40" y="463.0" font-size="13.30" style="stroke-width:0.08px">absent</text>
</svg>
</body></html>
